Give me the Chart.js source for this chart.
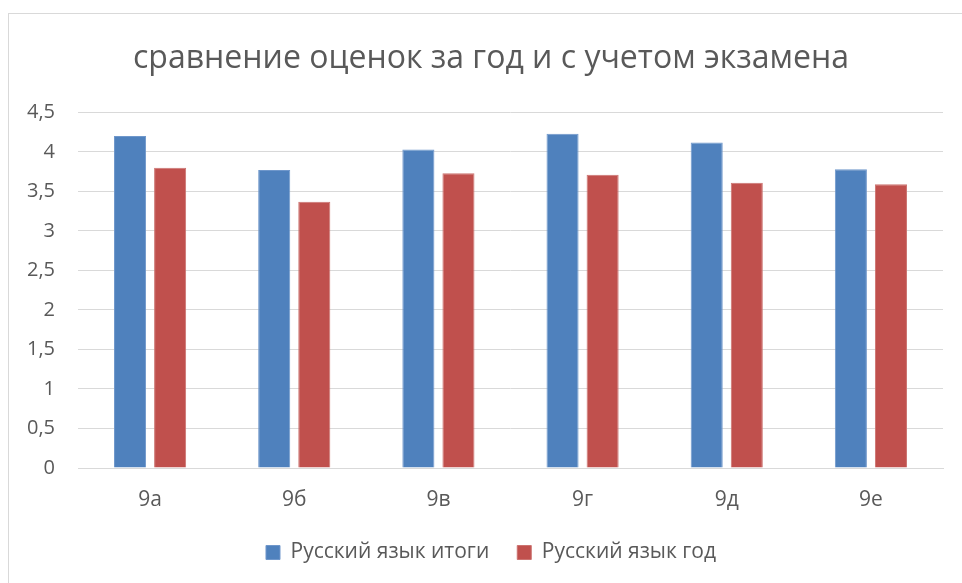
<!DOCTYPE html>
<html>
<head>
<meta charset="utf-8">
<script src="https://cdn.jsdelivr.net/npm/chart.js@4"></script>
<style>
  html, body { margin: 0; padding: 0; background: #fff; }
  #wrap { position: relative; width: 962px; height: 583px; }
  #frame {
    position: absolute; left: 8px; top: 13px; right: 0; bottom: 0;
    border-left: 1px solid #d9d9d9; border-top: 1px solid #d9d9d9;
  }
  canvas { position: absolute; left: 0; top: 0; }
</style>
</head>
<body>
<div id="wrap">
  <div id="frame"></div>
  <canvas id="chart" width="962" height="583"></canvas>
</div>
<script>
const classes = ['9а', '9б', '9в', '9г', '9д', '9е'];
const totalGrades = [4.20, 3.77, 4.03, 4.23, 4.12, 3.78];
const yearGrades = [3.80, 3.37, 3.73, 3.71, 3.61, 3.59];
const seriesNames = ['Русский язык итоги', 'Русский язык год'];
const yMax = 4.5;
const yStep = 0.5;

const textColor = '#595959';
const gridColor = '#d9d9d9';
const fontFamily = '"Open Sans", "Noto Sans", sans-serif';

new Chart(document.getElementById('chart'), {
  type: 'bar',
  data: {
    labels: classes,
    datasets: [{
      label: seriesNames[0],
      data: totalGrades,
      backgroundColor: '#4f81bd',
      borderColor: '#6f97cb',
      borderWidth: 1
    }, {
      label: seriesNames[1],
      data: yearGrades,
      backgroundColor: '#c0504d',
      borderColor: '#cc7370',
      borderWidth: 1
    }]
  },
  options: {
    responsive: false,
    animation: false,
    locale: 'ru-RU',
    datasets: {
      bar: { categoryPercentage: 0.556, barPercentage: 0.8 }
    },
    layout: { padding: { left: 20, right: 0, top: 40, bottom: 10 } },
    plugins: {
      title: {
        display: true,
        text: 'сравнение оценок за год и с учетом экзамена',
        color: textColor,
        font: { family: fontFamily, size: 32, weight: 'normal' },
        padding: { top: 0, bottom: 34 }
      },
      legend: {
        position: 'bottom',
        labels: {
          color: textColor,
          font: { family: fontFamily, size: 21 },
          boxWidth: 14,
          boxHeight: 14,
          padding: 28
        }
      },
      tooltip: { enabled: false }
    },
    scales: {
      x: {
        afterFit: (scale) => { scale.height = 46; },
        grid: { display: false, drawTicks: false },
        border: { color: gridColor, width: 1 },
        ticks: { color: textColor, font: { family: fontFamily, size: 21 }, padding: 19 }
      },
      y: {
        min: 0,
        max: yMax,
        afterFit: (scale) => { scale.width = 58; },
        grid: { color: gridColor, drawTicks: false },
        border: { display: false },
        ticks: {
          stepSize: yStep,
          color: textColor,
          font: { family: fontFamily, size: 20 },
          padding: 23,
          callback: (value) => value.toLocaleString('ru-RU')
        }
      },
      // empty right-hand strip so the title and legend centre like the original
      gutter: {
        position: 'right',
        min: 0,
        max: yMax,
        afterFit: (scale) => { scale.width = 19; },
        grid: { display: false, drawTicks: false },
        border: { display: false },
        ticks: { display: false }
      }
    }
  }
});
</script>
</body>
</html>
